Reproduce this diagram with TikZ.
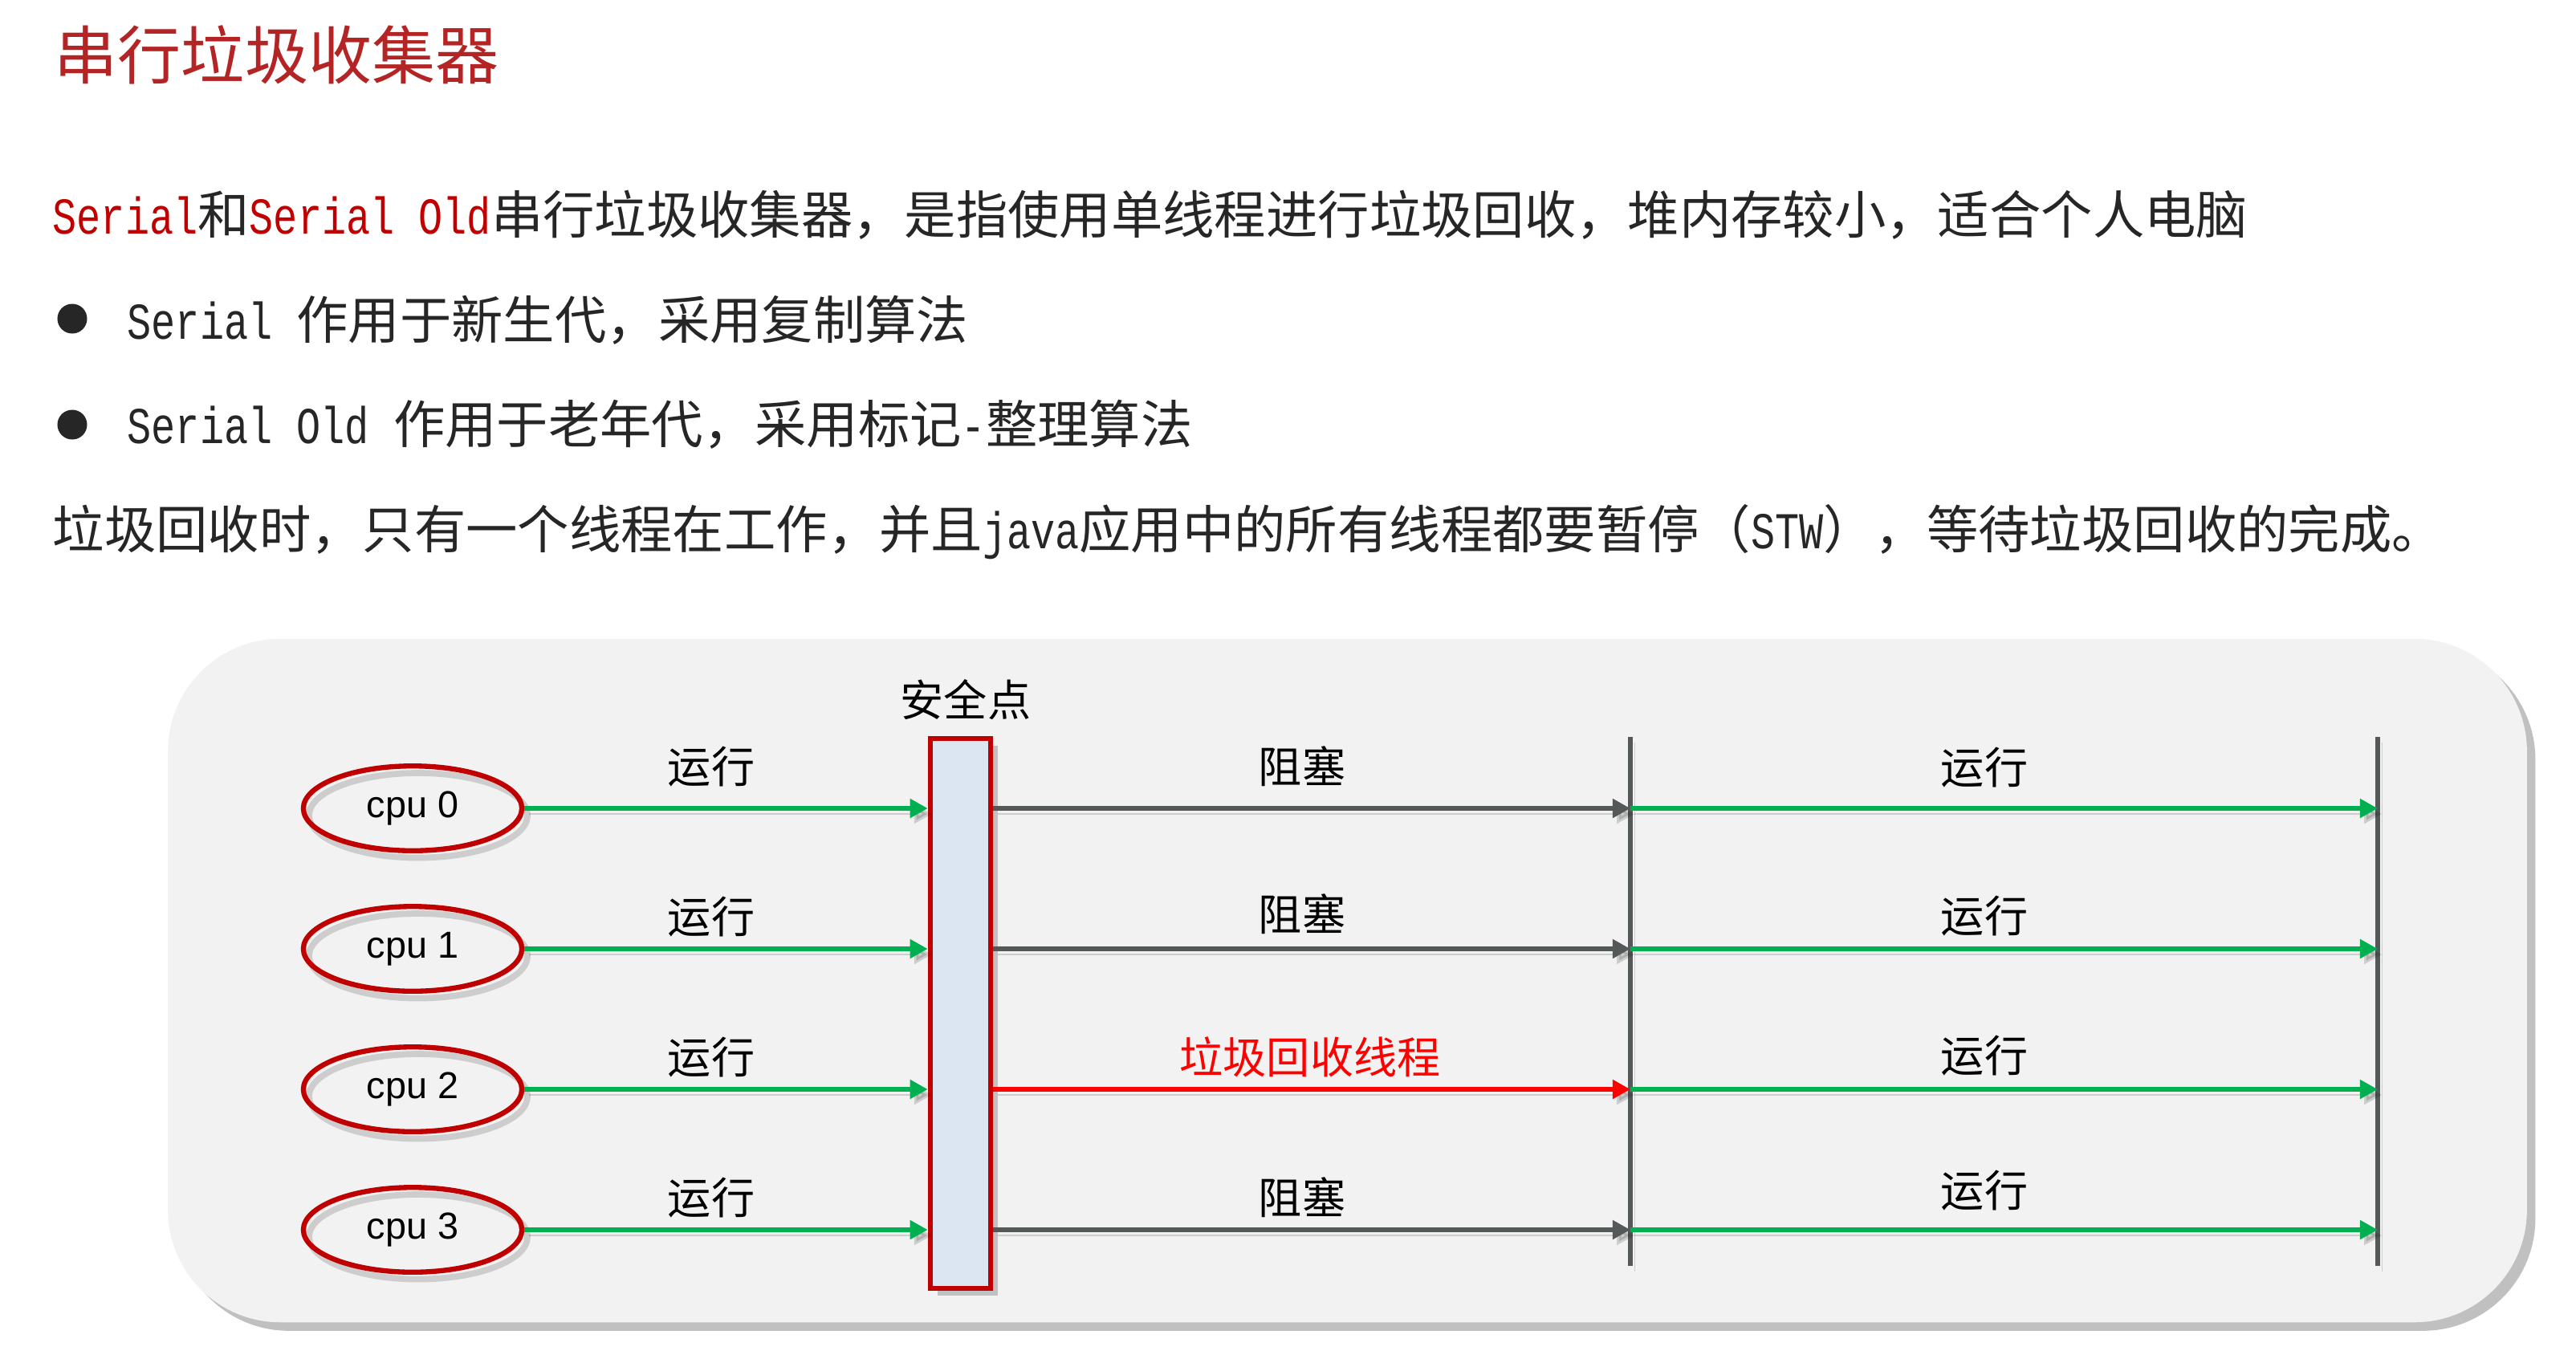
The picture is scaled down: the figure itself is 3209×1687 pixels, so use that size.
\documentclass[tikz,border=0pt]{standalone}
\usepackage{fontspec}
\setmainfont{Noto Sans CJK SC}
\newfontfamily\monof[FakeStretch=0.78]{Liberation Mono}
\newfontfamily\arialf{Liberation Sans}
\usetikzlibrary{shapes.geometric, arrows.meta, shadows}
\definecolor{titlered}{RGB}{180,36,36}
\definecolor{serred}{RGB}{192,0,0}
\definecolor{txtgray}{RGB}{38,38,38}
\definecolor{panelbg}{RGB}{242,242,242}
\definecolor{runG}{RGB}{0,176,80}
\definecolor{blockG}{RGB}{85,88,89}
\definecolor{gcR}{RGB}{255,0,0}
\definecolor{ringR}{RGB}{192,0,0}
\definecolor{spfill}{RGB}{220,230,242}
\tikzset{
  titletxt/.style={anchor=base west, inner sep=0pt, text=titlered, font=\fontsize{22.5pt}{27pt}\selectfont},
  bodytxt/.style={anchor=base west, inner sep=0pt, text=txtgray, font=\fontsize{18.3pt}{22pt}\selectfont},
  bulletdot/.style={circle, fill=txtgray, inner sep=0pt, minimum size=0.37cm},
  panel/.style={rectangle, fill=panelbg, rounded corners=1.4cm, inner sep=0pt,
    drop shadow={shadow xshift=3pt, shadow yshift=-3pt, opacity=0.45, fill=black!55}},
  lbl/.style={inner sep=0pt, text=black, font=\fontsize{15.4pt}{18pt}\selectfont},
  cpunode/.style={ellipse, draw=ringR, line width=1.8pt, inner sep=0pt,
    minimum width=2.72cm, minimum height=1.055cm, font=\arialf\fontsize{13.3pt}{16pt}\selectfont,
    preaction={draw=black, opacity=0.15, line width=2.2pt, transform canvas={xshift=2pt, yshift=-2.5pt}}},
  safept/.style={rectangle, draw=ringR, line width=1.85pt, fill=spfill, inner sep=0pt,
    minimum width=0.75cm, minimum height=6.85cm,
    drop shadow={shadow xshift=2.5pt, shadow yshift=-2.5pt, opacity=0.35, fill=black!60}},
  lsh/.style={preaction={draw=black, opacity=0.15, transform canvas={xshift=1.5pt, yshift=-2pt}}},
  tip/.style={-{Triangle[length=6.3pt, width=6.5pt]}},
  runarrow/.style={lsh, draw=runG, line width=1.6pt, tip},
  blkarrow/.style={lsh, draw=blockG, line width=1.9pt, tip},
  gcarrow/.style={lsh, draw=gcR, line width=1.7pt, tip},
  vline/.style={lsh, draw=blockG, line width=1.7pt}
}
\begin{document}
\begin{tikzpicture}[x=0.01cm, y=-0.01cm]
\useasboundingbox (0,0) rectangle (3209,1687);
% header texts
\node[titletxt] (title) at (67,98) {串行垃圾收集器};
\node[bodytxt] (l1) at (65,291) {{\color{serred}\monof Serial}和{\color{serred}\monof Serial Old}串行垃圾收集器，是指使用单线程进行垃圾回收，堆内存较小，适合个人电脑};
\node[bulletdot] (b1) at (90,397) {};
\node[bodytxt] (l2) at (158,422) {{\monof Serial }作用于新生代，采用复制算法};
\node[bulletdot] (b2) at (90,529) {};
\node[bodytxt] (l3) at (158,552) {{\monof Serial Old }作用于老年代，采用标记{\monof -}整理算法};
\node[bodytxt] (l4) at (65,683) {垃圾回收时，只有一个线程在工作，并且{\monof java}应用中的所有线程都要暂停（{\monof STW}），等待垃圾回收的完成。};
% panel
\node[panel, minimum width=29.37cm, minimum height=8.51cm] (pnl) at (1678.5,1221.5) {};
% safe point
\node[safept] (sp) at (1196.5,1262.5) {};
\node[lbl] (splbl) at (1203,872) {安全点};
% cpus
\node[cpunode] (c0) at (514,1007) {cpu 0};
\node[cpunode] (c1) at (514,1182) {cpu 1};
\node[cpunode] (c2) at (514,1357) {cpu 2};
\node[cpunode] (c3) at (514,1532) {cpu 3};
% vertical lines
\coordinate (v1t) at (2031,918);
\coordinate (v1b) at (2031,1577);
\coordinate (v2t) at (2962,918);
\coordinate (v2b) at (2962,1577);
\draw[vline] (v1t) -- (v1b);
\draw[vline] (v2t) -- (v2b);
% arrows
\foreach \c in {c0,c1,c2,c3}{
  \draw[runarrow] (\c.east) -- (\c -| sp.west);
  \draw[runarrow] (v1t |- \c) -- (v2t |- \c);
}
\draw[blkarrow] (sp.east |- c0) -- (v1t |- c0);
\draw[blkarrow] (sp.east |- c1) -- (v1t |- c1);
\draw[gcarrow] (sp.east |- c2) -- (v1t |- c2);
\draw[blkarrow] (sp.east |- c3) -- (v1t |- c3);
% labels
\node[lbl] (r0) at (886,955) {运行};
\node[lbl] (r1) at (886,1142) {运行};
\node[lbl] (r2) at (886,1317) {运行};
\node[lbl] (r3) at (886,1492) {运行};
\node[lbl] (m0) at (1622,955) {阻塞};
\node[lbl] (m1) at (1622,1139) {阻塞};
\node[lbl, text=gcR] (m2) at (1632,1317) {垃圾回收线程};
\node[lbl] (m3) at (1622,1492) {阻塞};
\node[lbl] (s0) at (2472,956) {运行};
\node[lbl] (s1) at (2472,1141) {运行};
\node[lbl] (s2) at (2472,1315) {运行};
\node[lbl] (s3) at (2472,1483) {运行};
\end{tikzpicture}
\end{document}
